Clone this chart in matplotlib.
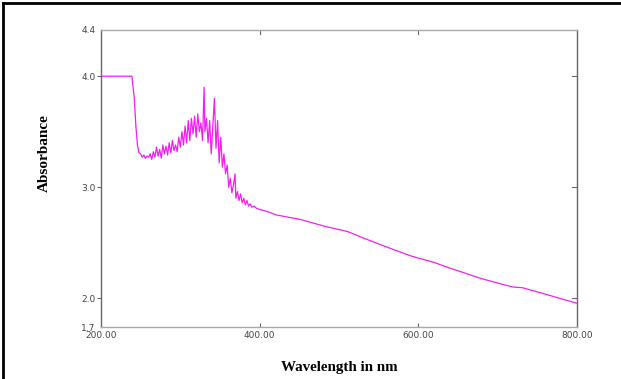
import matplotlib.pyplot as plt
from matplotlib.lines import Line2D

# spectrum (nm, absorbance)
wavelength = [200, 239, 242, 244, 246, 248,
              250, 252, 254, 256, 258, 260, 262, 264, 266, 268, 270, 272, 274, 276,
              278, 280, 282, 284, 286, 288, 290, 292, 294, 296, 298, 300, 302, 304,
              306, 308, 310, 312, 314, 316, 318, 320, 322, 324, 326, 328, 330, 331,
              333, 335, 337, 339, 341, 343, 345, 347, 349, 351, 353, 355, 357, 359,
              361, 363, 365, 367, 369, 370, 372, 374, 376, 378, 380, 382, 384, 386,
              388, 390, 393, 396, 400,
              410, 421, 436, 451, 466, 481, 496, 511, 528, 546, 568, 591, 606, 621,
              636, 651, 678, 706, 720, 731, 746, 761, 780, 800]
absorbance = [4.00, 4.00, 3.80, 3.55, 3.38, 3.31,
              3.30, 3.27, 3.29, 3.26, 3.28, 3.27, 3.30, 3.25, 3.32, 3.27, 3.36, 3.28, 3.34, 3.26,
              3.38, 3.30, 3.37, 3.29, 3.40, 3.31, 3.42, 3.33, 3.38, 3.32, 3.45, 3.36, 3.50, 3.38,
              3.55, 3.40, 3.60, 3.42, 3.62, 3.48, 3.64, 3.45, 3.66, 3.50, 3.58, 3.42, 3.90, 3.50,
              3.62, 3.40, 3.60, 3.30, 3.55, 3.80, 3.35, 3.60, 3.22, 3.45, 3.18, 3.30, 3.12, 3.20,
              3.00, 3.08, 2.95, 3.02, 3.12, 2.90, 2.96, 2.88, 2.94, 2.86, 2.90, 2.84, 2.88, 2.83,
              2.85, 2.82, 2.83, 2.81, 2.80,
              2.78, 2.75, 2.73, 2.71, 2.68, 2.65, 2.625, 2.60, 2.55, 2.50, 2.44, 2.38, 2.35, 2.32,
              2.28, 2.245, 2.18, 2.125, 2.10, 2.095, 2.065, 2.035, 1.995, 1.955]

ylo, yhi = 1.74, 4.42
ytick_pos = [ylo, 2.0, 3.0, 4.0, yhi]
ytick_lab = ['1.7', '2.0', '3.0', '4.0', '4.4']
xtick_pos = [200, 400, 600, 800]
xtick_lab = ['200.00', '400.00', '600.00', '800.00']

fig = plt.figure(figsize=(6.21, 3.79), dpi=100)
ax = fig.add_axes([0.1626, 0.137, 0.7665, 0.785])

ax.plot(wavelength, absorbance, color='#f020f0', lw=0.9)

ax.set_xlim(200, 800)
ax.set_ylim(ylo, yhi)
ax.set_xticks(xtick_pos)
ax.set_xticklabels(xtick_lab)
ax.set_yticks(ytick_pos)
ax.set_yticklabels(ytick_lab)
ax.tick_params(axis='both', labelsize=6.5, labelcolor='#444', color='#666',
               length=3, width=0.8)
ax.tick_params(axis='y', direction='out', pad=1)
ax.tick_params(axis='x', direction='in', pad=3)

# hide tick marks at the axis ends
for t in ax.yaxis.get_major_ticks():
    if t.get_loc() in (ylo, yhi):
        t.tick1line.set_visible(False)
for t in ax.xaxis.get_major_ticks():
    if t.get_loc() in (200, 800):
        t.tick1line.set_visible(False)

# inward ticks on the right and top frame
for y in [2.0, 3.0, 4.0]:
    ax.plot([1.0, 0.99], [y, y], transform=ax.get_yaxis_transform(), color='#666', lw=0.8,
            clip_on=False)
for x in [400, 600]:
    ax.plot([x, x], [1.0, 0.985], transform=ax.get_xaxis_transform(), color='#666', lw=0.8,
            clip_on=False)

ax.spines['left'].set_color('#666')
ax.spines['bottom'].set_color('#aaa')
ax.spines['top'].set_color('#aaa')
ax.spines['right'].set_color('#666')
for s in ax.spines.values():
    s.set_linewidth(1.0)

ax.set_ylabel('Absorbance', fontfamily='Liberation Serif', fontweight='bold', fontsize=11)
ax.yaxis.set_label_coords(-0.105, 0.586)
ax.set_xlabel('Wavelength in nm', fontfamily='Liberation Serif', fontweight='bold',
              fontsize=10.8, labelpad=15)

# black frame along the left and top of the image
fig.add_artist(Line2D([0.005, 0.005], [0, 0.993], transform=fig.transFigure, color='black', lw=2))
fig.add_artist(Line2D([0.005, 1.0], [0.993, 0.993], transform=fig.transFigure, color='black', lw=2))

fig.savefig('out.png', dpi=100)
